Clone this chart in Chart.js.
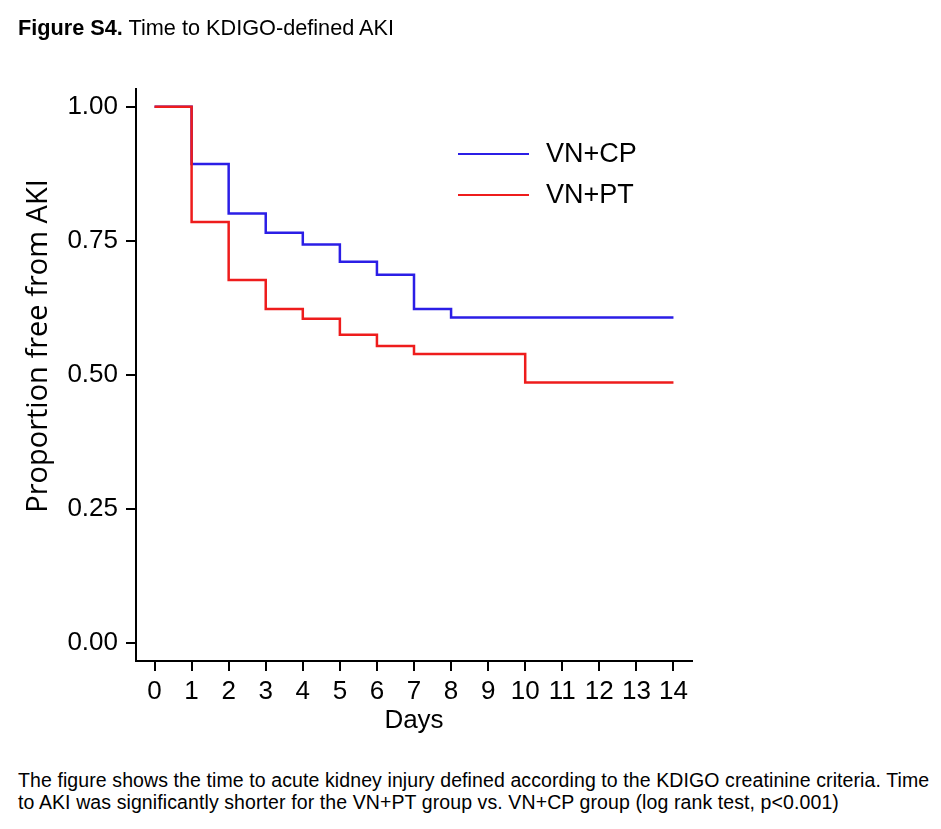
<!DOCTYPE html>
<html>
<head>
<meta charset="utf-8">
<script src="https://cdn.jsdelivr.net/npm/chart.js@4.4.1/dist/chart.umd.min.js"></script>
<style>
  body { margin: 0; background: #fff; font-family: "Liberation Sans", Arial, sans-serif; color: #000; }
  #wrap { position: relative; width: 941px; height: 829px; }
  #title { position: absolute; left: 18px; top: 17px; font-size: 21.7px; line-height: 21px; }
  #chart { position: absolute; left: 0; top: 0; }
  #caption { position: absolute; left: 18px; top: 769px; font-size: 19.5px; line-height: 22px; letter-spacing: 0.1px; white-space: nowrap; }
</style>
</head>
<body>
<div id="wrap">
  <canvas id="chart" width="700" height="760"></canvas>
  <div id="title"><b>Figure S4.</b> Time to KDIGO-defined AKI</div>
  <div id="caption">The figure shows the time to acute kidney injury defined according to the KDIGO creatinine criteria. Time<br>to AKI was significantly shorter for the VN+PT group vs. VN+CP group (log rank test, p&lt;0.001)</div>
</div>
<script>
// KM curves
const cpDays = [0, 1, 2, 3, 4, 5, 6, 7, 8, 14];
const cpFree = [1.00, 0.893, 0.801, 0.765, 0.743, 0.711, 0.687, 0.623, 0.607, 0.607];
const ptDays = [0, 1, 2, 3, 4, 5, 6, 7, 10, 14];
const ptFree = [1.00, 0.785, 0.677, 0.623, 0.605, 0.575, 0.554, 0.539, 0.486, 0.486];

const xTicks = [0, 1, 2, 3, 4, 5, 6, 7, 8, 9, 10, 11, 12, 13, 14];
const yTicks = [0, 0.25, 0.5, 0.75, 1];
const yTitle = "Proportion free from AKI";

const toPoints = (xs, ys) => xs.map((x, i) => ({ x: x, y: ys[i] }));

// legend inside the plot + y title (sits a bit above centre in the original)
const extras = {
  id: "extras",
  afterDraw(chart, args, opts) {
    const { ctx, chartArea } = chart;
    ctx.save();
    ctx.font = opts.font;
    ctx.textBaseline = "middle";
    ctx.fillStyle = "#000";
    chart.data.datasets.forEach((ds, i) => {
      const x = chartArea.left + opts.left;
      const y = chartArea.top + opts.top + i * opts.gap;
      ctx.strokeStyle = ds.borderColor;
      ctx.lineWidth = 2;
      ctx.beginPath();
      ctx.moveTo(x, y);
      ctx.lineTo(x + opts.lineLength, y);
      ctx.stroke();
      ctx.fillText(ds.label, x + opts.lineLength + 17, y + 1);
    });
    ctx.translate(opts.titleX, opts.titleY);
    ctx.rotate(-Math.PI / 2);
    ctx.font = opts.titleFont;
    ctx.textAlign = "center";
    ctx.fillText(yTitle, 0, 0);
    ctx.restore();
  },
};

const ctx = document.getElementById("chart").getContext("2d");
const myChart = new Chart(ctx, {
  type: "line",
  data: {
    datasets: [
      {
        label: "VN+CP",
        data: toPoints(cpDays, cpFree),
        borderColor: "#2b1ee6",
        borderWidth: 2.5,
        stepped: "before",
        pointRadius: 0,
        fill: false,
        order: 1,
      },
      {
        label: "VN+PT",
        data: toPoints(ptDays, ptFree),
        borderColor: "#ee1c1c",
        borderWidth: 2.5,
        stepped: "before",
        pointRadius: 0,
        fill: false,
        order: 0,
      },
    ],
  },
  options: {
    responsive: false,
    animation: false,
    layout: { padding: { top: 89, right: 8, bottom: 9, left: 0 } },
    plugins: {
      legend: { display: false },
      tooltip: { enabled: false },
      extras: {
        left: 322,
        top: 65,
        gap: 41,
        lineLength: 71,
        font: '27px "Liberation Sans", Arial, sans-serif',
        titleX: 39,
        titleY: 346,
        titleFont: '29px "Open Sans", sans-serif',
      },
    },
    scales: {
      x: {
        type: "linear",
        min: -0.5,
        max: 14.5,
        afterBuildTicks: (scale) => { scale.ticks = xTicks.map((v) => ({ value: v })); },
        afterFit: (scale) => { scale.height = 90; },
        ticks: {
          color: "#000",
          padding: 5,
          maxRotation: 0,
          autoSkip: false,
          font: { family: '"Liberation Sans", Arial, sans-serif', size: 26 },
        },
        grid: { drawOnChartArea: false, drawTicks: true, tickLength: 10, color: "#000", lineWidth: 2 },
        border: { display: true, color: "#000", width: 2 },
        title: {
          display: true,
          text: "Days",
          color: "#000",
          padding: { top: 0, bottom: 15 },
          font: { family: '"Liberation Sans", Arial, sans-serif', size: 26 },
        },
      },
      y: {
        type: "linear",
        min: -0.033,
        max: 1.033,
        afterBuildTicks: (scale) => { scale.ticks = yTicks.map((v) => ({ value: v })); },
        afterFit: (scale) => { scale.width = 136; },
        ticks: {
          color: "#000",
          padding: 8,
          callback: (v) => v.toFixed(2),
          font: { family: '"Liberation Sans", Arial, sans-serif', size: 26 },
        },
        grid: { drawOnChartArea: false, drawTicks: true, tickLength: 10, color: "#000", lineWidth: 2 },
        border: { display: true, color: "#000", width: 2 },
      },
    },
  },
  plugins: [extras],
});
</script>
</body>
</html>
